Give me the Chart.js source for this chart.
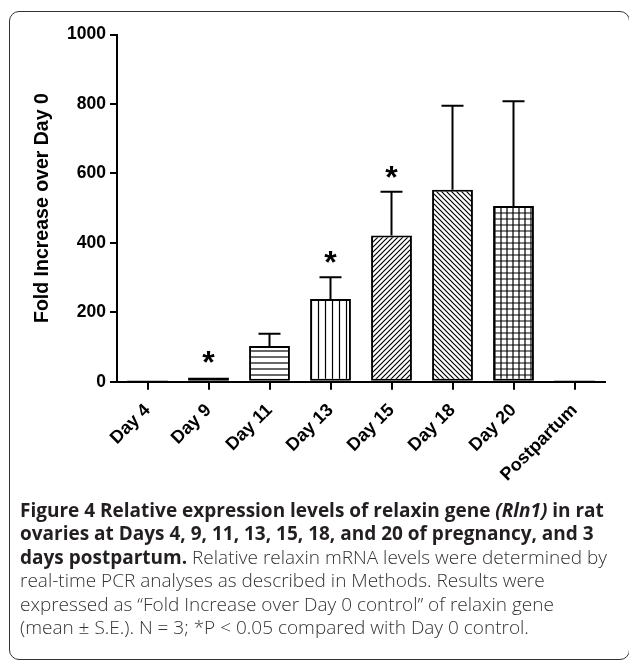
<!DOCTYPE html>
<html>
<head>
<meta charset="utf-8">
<script src="https://cdn.jsdelivr.net/npm/chart.js@4.4.0/dist/chart.umd.min.js"></script>
<style>
  html, body { margin: 0; padding: 0; background: #fff; }
  body { width: 629px; height: 665px; position: relative; overflow: hidden; }
  #frame {
    position: absolute; left: 9px; top: 11px; width: 621px; height: 649px;
    box-sizing: border-box; border: 1.5px solid #333; border-radius: 10px;
  }
  #chartBox { position: absolute; left: 0; top: 0; width: 629px; height: 500px; }
  #caption {
    position: absolute; left: 20px; top: 499px;
    font-family: "Open Sans", "Noto Sans", sans-serif; font-size: 19px;
    line-height: 23.4px; color: #231f20; white-space: nowrap;
  }
  #caption b { font-weight: 700; }
  #caption .ln { font-weight: 300; color: #333; }
  #caption .ln.b { font-weight: 700; color: #231f20; }
  #caption .ln b { color: #231f20; }
</style>
</head>
<body>
<div id="frame"></div>
<div id="chartBox"><canvas id="myChart" width="629" height="500"></canvas></div>
<div id="caption">
  <div class="ln b">Figure 4 Relative expression levels of relaxin gene <i>(Rln1)</i> in rat</div>
  <div class="ln b">ovaries at Days 4, 9, 11, 13, 15, 18, and 20 of pregnancy, and 3</div>
  <div class="ln"><b>days postpartum.</b> Relative relaxin mRNA levels were determined by</div>
  <div class="ln">real-time PCR analyses as described in Methods. Results were</div>
  <div class="ln">expressed as “Fold Increase over Day 0 control” of relaxin gene</div>
  <div class="ln">(mean ± S.E.). N = 3; *P &lt; 0.05 compared with Day 0 control.</div>
</div>
<script>
// categories and values
const days = ["Day 4", "Day 9", "Day 11", "Day 13", "Day 15", "Day 18", "Day 20", "Postpartum"];
const foldMean = [4, 12, 103, 238, 421, 553, 506, 4];
const foldSE = [1, 1, 35, 63, 126, 242, 302, 1];
const significant = [false, true, false, true, true, false, false, false];
const fillStyles = ["blank", "dash", "horizontal", "vertical", "diagUp", "diagDown", "grid", "blank"];
const yMin = 0, yMax = 1000, yStep = 200;

// little tiles used as bar fills
function makePattern(kind) {
  const s = kind === "vertical" ? 7 : (kind === "diagUp" || kind === "diagDown") ? 5 : 6;
  const c = document.createElement("canvas");
  c.width = s; c.height = s;
  const g = c.getContext("2d");
  g.fillStyle = "#fff";
  g.fillRect(0, 0, s, s);
  g.strokeStyle = "#000";
  g.lineWidth = 1.2;
  g.beginPath();
  if (kind === "horizontal" || kind === "grid") { g.moveTo(0, s / 2); g.lineTo(s, s / 2); }
  if (kind === "vertical" || kind === "grid") { g.moveTo(s / 2, 0); g.lineTo(s / 2, s); }
  if (kind === "dash") { g.moveTo(1, s / 2); g.lineTo(s - 1, s / 2); }
  if (kind === "diagUp") {
    g.moveTo(0, s); g.lineTo(s, 0);
    g.moveTo(-1, 1); g.lineTo(1, -1);
    g.moveTo(s - 1, s + 1); g.lineTo(s + 1, s - 1);
  }
  if (kind === "diagDown") {
    g.moveTo(0, 0); g.lineTo(s, s);
    g.moveTo(-1, s - 1); g.lineTo(1, s + 1);
    g.moveTo(s - 1, -1); g.lineTo(s + 1, 1);
  }
  g.stroke();
  return g.createPattern(c, "repeat");
}

// error bars (upper side only) and significance stars
const errorBarPlugin = {
  id: "errorBars",
  afterDatasetsDraw(chart) {
    const ctx = chart.ctx;
    const x = chart.scales.x, y = chart.scales.y;
    ctx.save();
    ctx.strokeStyle = "#000";
    ctx.lineWidth = 2;
    foldMean.forEach((m, i) => {
      const px = x.getPixelForValue(i);
      const top = y.getPixelForValue(m + foldSE[i]);
      const base = y.getPixelForValue(m);
      if (base - top > 2) {
        ctx.beginPath();
        ctx.moveTo(px, base);
        ctx.lineTo(px, top);
        ctx.moveTo(px - 11, top);
        ctx.lineTo(px + 11, top);
        ctx.stroke();
      }
      if (significant[i]) {
        ctx.fillStyle = "#000";
        ctx.font = "bold 32px 'Liberation Sans', Arial, sans-serif";
        ctx.textAlign = "center";
        ctx.textBaseline = "alphabetic";
        ctx.fillText("*", px, top - 22 + 0.57 * 32);
      }
    });
    ctx.restore();
  },
};

const tickFont = { family: "'Liberation Sans', Arial, sans-serif", size: 17.5, weight: "bold" };
const xTickFont = { family: "'Liberation Sans', Arial, sans-serif", size: 18, weight: "bold" };

const ctx = document.getElementById("myChart").getContext("2d");
const myChart = new Chart(ctx, {
  type: "bar",
  data: {
    labels: days,
    datasets: [
      {
        data: foldMean,
        backgroundColor: fillStyles.map((k) => (k === "blank" ? "#fff" : makePattern(k))),
        borderColor: "#000",
        borderWidth: 2,
        borderSkipped: false,
        barPercentage: 0.67,
        categoryPercentage: 1,
      },
    ],
  },
  options: {
    responsive: false,
    animation: false,
    layout: { padding: { left: 0, right: 24, top: 34.5, bottom: 0 } },
    plugins: { legend: { display: false }, tooltip: { enabled: false } },
    scales: {
      x: {
        offset: true,
        border: { display: true, color: "#000", width: 2 },
        grid: { display: true, drawOnChartArea: false, drawTicks: true, tickLength: 8, color: "#000", lineWidth: 2, offset: false },
        ticks: { color: "#000", font: xTickFont, minRotation: 45, maxRotation: 45, padding: 10 },
        afterFit(scale) { scale.height = 118.3; },
      },
      y: {
        min: yMin,
        max: yMax,
        border: { display: true, color: "#000", width: 2 },
        grid: { display: true, drawOnChartArea: false, drawTicks: true, tickLength: 7, color: "#000", lineWidth: 2 },
        ticks: { stepSize: yStep, color: "#000", font: tickFont, padding: 4, callback: (v) => String(v) },
        title: {
          display: true,
          text: "Fold Increase over Day 0",
          color: "#000",
          font: { family: "'Liberation Sans', Arial, sans-serif", size: 19.5, weight: "bold" },
          padding: { top: 31.3, bottom: 0 },
        },
        afterFit(scale) { scale.width = 117; },
      },
    },
  },
  plugins: [errorBarPlugin],
});
</script>
</body>
</html>
